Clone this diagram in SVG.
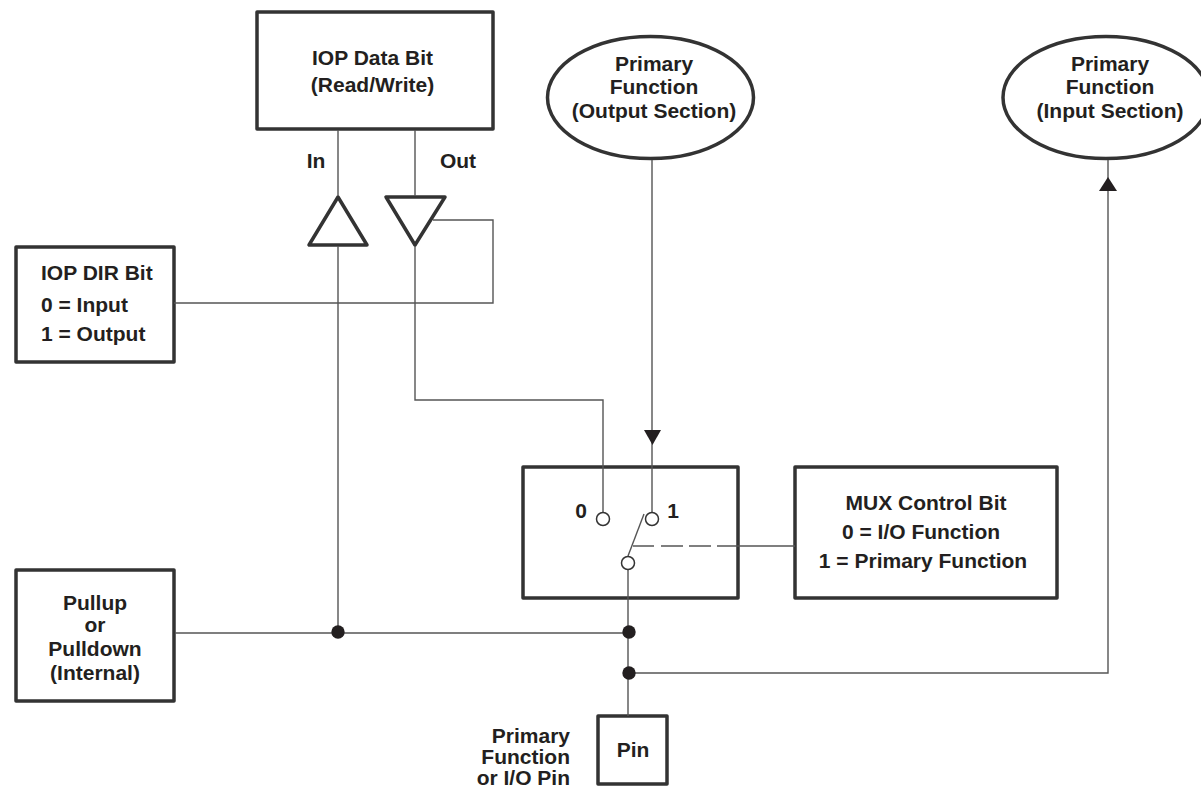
<svg xmlns="http://www.w3.org/2000/svg" width="1201" height="788" viewBox="0 0 1201 788">
<style>
text{font-family:"Liberation Sans",Arial,sans-serif;font-weight:bold;font-size:21px;fill:#231f20;text-anchor:middle}
.s{text-anchor:start}
.e{text-anchor:end}
.b{fill:#fff;stroke:#333;stroke-width:3.5;stroke-linejoin:round}
.l{fill:none;stroke:#555;stroke-width:1.4}
.d{fill:#231f20}
.o{fill:#fff;stroke:#333;stroke-width:1.5}
</style>
<rect width="1201" height="788" fill="#fff"/>
<g id="iop-data"><rect class="b" x="257" y="12" width="236" height="117"/><text x="372.500" y="65">IOP Data Bit</text><text x="372.500" y="92">(Read/Write)</text></g>
<g id="out-func"><ellipse class="b" cx="650.500" cy="97.500" rx="103" ry="61"/><text x="654" y="71">Primary</text><text x="654" y="94">Function</text><text x="654" y="118">(Output Section)</text></g>
<g id="in-func"><ellipse class="b" cx="1106" cy="97.500" rx="103" ry="61"/><text x="1110" y="71">Primary</text><text x="1110" y="94">Function</text><text x="1110" y="118">(Input Section)</text></g>
<g id="in-label"><text x="316" y="168">In</text></g>
<g id="out-label"><text x="458" y="168">Out</text></g>
<g id="buf-in"><path class="b" d="M338 197L309 245H367Z"/></g>
<g id="buf-out"><path class="b" d="M386 197H445L415 245Z"/></g>
<g id="dir"><rect class="b" x="16" y="247" width="158" height="115"/><text class="s" x="41" y="280">IOP DIR Bit</text><text class="s" x="41" y="312">0 = Input</text><text class="s" x="41" y="341">1 = Output</text></g>
<g id="mux"><rect class="b" x="523" y="467" width="215" height="131"/><text x="581" y="518">0</text><text x="673" y="518">1</text></g>
<g id="mux-ctl"><rect class="b" x="795" y="467" width="262" height="131"/><text x="926" y="510">MUX Control Bit</text><text x="921" y="539">0 = I/O Function</text><text x="923" y="568">1 = Primary Function</text></g>
<g id="pull"><rect class="b" x="16" y="570" width="158" height="131"/><text x="95" y="610">Pullup</text><text x="95" y="632">or</text><text x="95" y="656">Pulldown</text><text x="95" y="680">(Internal)</text></g>
<g id="pin"><rect class="b" x="598" y="716" width="69" height="68"/><text x="633" y="757">Pin</text><text class="e" x="570" y="743">Primary</text><text class="e" x="570" y="764">Function</text><text class="e" x="570" y="785">or I/O Pin</text></g>
<g id="connectors">
<path class="l" d="M338 130V196M338 246V632M415 130V196M415 246V400H603V512"/>
<path class="l" d="M174 303H493V220H433"/>
<path class="l" d="M652 160V512M628 570V716"/>
<path class="l" d="M644 514L628 556"/>
<path class="l" d="M633 546H795" stroke-dasharray="21 7 22 6 22 6 78"/>
<path class="l" d="M175 633H628M628 673H1108V160"/>
<path class="d" d="M644 430H661L652.500 445Z"/>
<path class="d" d="M1099 191L1108 177L1117 191Z"/>
<circle class="d" cx="338" cy="632" r="6.700"/><circle class="d" cx="629" cy="632" r="6.700"/><circle class="d" cx="629" cy="673" r="6.700"/>
<circle class="o" cx="603" cy="519" r="6.500"/><circle class="o" cx="652" cy="519" r="6.500"/><circle class="o" cx="628" cy="563" r="6.500"/>
</g>
</svg>
